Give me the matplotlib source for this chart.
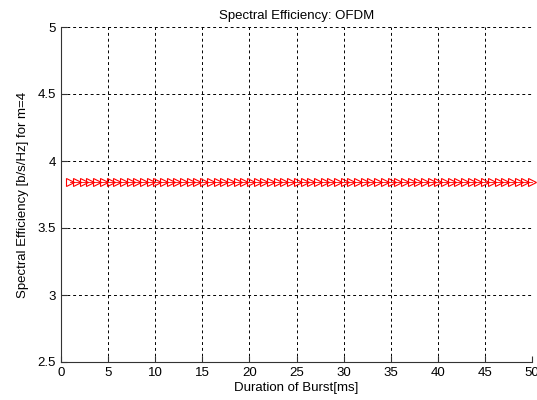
import matplotlib
matplotlib.use("Agg")
import matplotlib.pyplot as plt

durations = [1.00, 1.71, 2.42, 3.13, 3.84, 4.55, 5.26, 5.97, 6.68, 7.39,
             8.10, 8.81, 9.52, 10.23, 10.94, 11.65, 12.36, 13.07, 13.78, 14.49,
             15.20, 15.91, 16.62, 17.33, 18.04, 18.75, 19.46, 20.17, 20.88, 21.59,
             22.30, 23.01, 23.72, 24.43, 25.14, 25.86, 26.57, 27.28, 27.99, 28.70,
             29.41, 30.12, 30.83, 31.54, 32.25, 32.96, 33.67, 34.38, 35.09, 35.80,
             36.51, 37.22, 37.93, 38.64, 39.35, 40.06, 40.77, 41.48, 42.19, 42.90,
             43.61, 44.32, 45.03, 45.74, 46.45, 47.16, 47.87, 48.58, 49.29, 50.00]
efficiency = [3.845] * 70  # constant value

xticks = [0, 5, 10, 15, 20, 25, 30, 35, 40, 45, 50]
yticks = [2.5, 3, 3.5, 4, 4.5, 5]

plt.rcParams['font.family'] = ['Liberation Sans', 'DejaVu Sans']

fig = plt.figure(figsize=(5.37, 4.0), dpi=100)
ax = fig.add_axes([61/537, 38/400, 471/537, 335/400])

ax.plot(durations, efficiency, color='red', linewidth=0.6, marker='>',
        markersize=5.5, markerfacecolor='none', markeredgecolor='red',
        markeredgewidth=0.8, clip_on=False)

ax.set_xlim(0, 50)
ax.set_ylim(2.5, 5)
ax.set_xticks(xticks)
ax.set_yticks(yticks)
ax.set_yticklabels(['2.5', '3', '3.5', '4', '4.5', '5'])

ax.grid(True, color='black', linestyle=(0, (3, 3)), linewidth=0.7)
for s in ['top', 'right']:
    ax.spines[s].set_visible(False)
for s in ['left', 'bottom']:
    ax.spines[s].set_linewidth(0.8)
    ax.spines[s].set_color('#333333')
ax.tick_params(direction='in', length=4, labelsize=9.5, colors='#333333',
               labelcolor='black')

ax.set_title('Spectral Efficiency: OFDM', fontsize=9.5, pad=6)
ax.set_xlabel('Duration of Burst[ms]', fontsize=9.5, labelpad=2)
ax.set_ylabel('Spectral Efficiency [b/s/Hz] for m=4', fontsize=9.5, labelpad=6)

fig.savefig('out.png', dpi=100, facecolor='white')
